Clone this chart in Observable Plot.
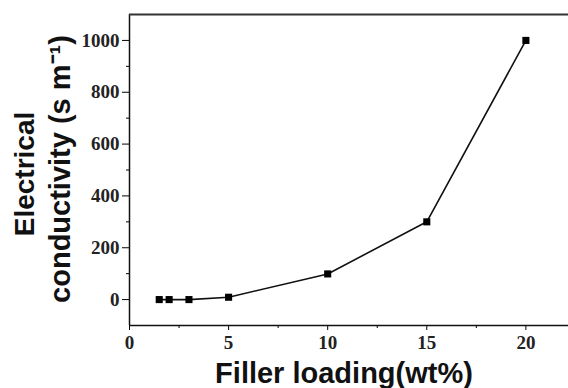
<!DOCTYPE html>
<html>
<head>
<meta charset="utf-8">
<script src="https://cdn.jsdelivr.net/npm/d3@7"></script>
<script src="https://cdn.jsdelivr.net/npm/@observablehq/plot@0.6"></script>
<style>
  html, body { margin: 0; padding: 0; background: #fff; }
</style>
</head>
<body>
<div id="chart"></div>
<script>
const fillerLoading = [1.5, 2, 3, 5, 10, 15, 20];
const conductivity = [0, 0, 0, 9, 99, 300, 1000];
const xMajorTicks = [0, 5, 10, 15, 20];
const xMinorTicks = [2.5, 7.5, 12.5, 17.5];
const yMajorTicks = [0, 200, 400, 600, 800, 1000];
const yMinorTicks = [100, 300, 500, 700, 900];
const xTitle = "Filler loading(wt%)";
const yTitle1 = "Electrical";
const yTitle2 = "conductivity (s m\u207B\u00B9)";

const data = fillerLoading.map((x, i) => ({x, y: conductivity[i]}));

const tickFont = {fontFamily: "Liberation Serif", fontWeight: "bold", fontSize: 19, fill: "#222"};
const titleFont = {fontFamily: "Liberation Sans", fontWeight: "bold", fill: "#111"};

const chart = Plot.plot({
  width: 568,
  height: 388,
  marginLeft: 129,
  marginRight: 0,
  marginTop: 14,
  marginBottom: 63,
  style: {background: "#fff"},
  x: {domain: [0, 22.15]},
  y: {domain: [-100, 1100]},
  marks: [
    Plot.axisX({ticks: xMajorTicks, tickSize: 5, tickPadding: 5, tickFormat: d => String(d), label: null, ...tickFont}),
    Plot.axisX({ticks: xMinorTicks, tickSize: 3, text: null, label: null}),
    Plot.axisY({ticks: yMajorTicks, tickSize: 7, tickPadding: 3, tickFormat: d => String(d), label: null, ...tickFont}),
    Plot.axisY({ticks: yMinorTicks, tickSize: 3, text: null, label: null}),
    Plot.ruleX([0], {stroke: "#111", strokeWidth: 1.5}),
    Plot.ruleY([-100], {stroke: "#111", strokeWidth: 1.5}),
    Plot.ruleY([1100], {stroke: "#333", strokeWidth: 2}),
    Plot.line(data, {x: "x", y: "y", stroke: "#111", strokeWidth: 1.6}),
    Plot.dot(data, {x: "x", y: "y", symbol: "square", r: 4, fill: "#000", stroke: "none"}),
    Plot.text([xTitle], {frameAnchor: "bottom", textAnchor: "middle", dx: -5, dy: 57, lineAnchor: "bottom", fontSize: 29, ...titleFont}),
    Plot.text([yTitle1], {frameAnchor: "left", textAnchor: "middle", dx: -96, dy: 4, rotate: -90, lineAnchor: "bottom", fontSize: 28, ...titleFont}),
    Plot.text([yTitle2], {frameAnchor: "left", textAnchor: "middle", dx: -60, dy: -1, rotate: -90, lineAnchor: "bottom", fontSize: 29, ...titleFont})
  ]
});
document.getElementById("chart").appendChild(chart);
</script>
</body>
</html>
